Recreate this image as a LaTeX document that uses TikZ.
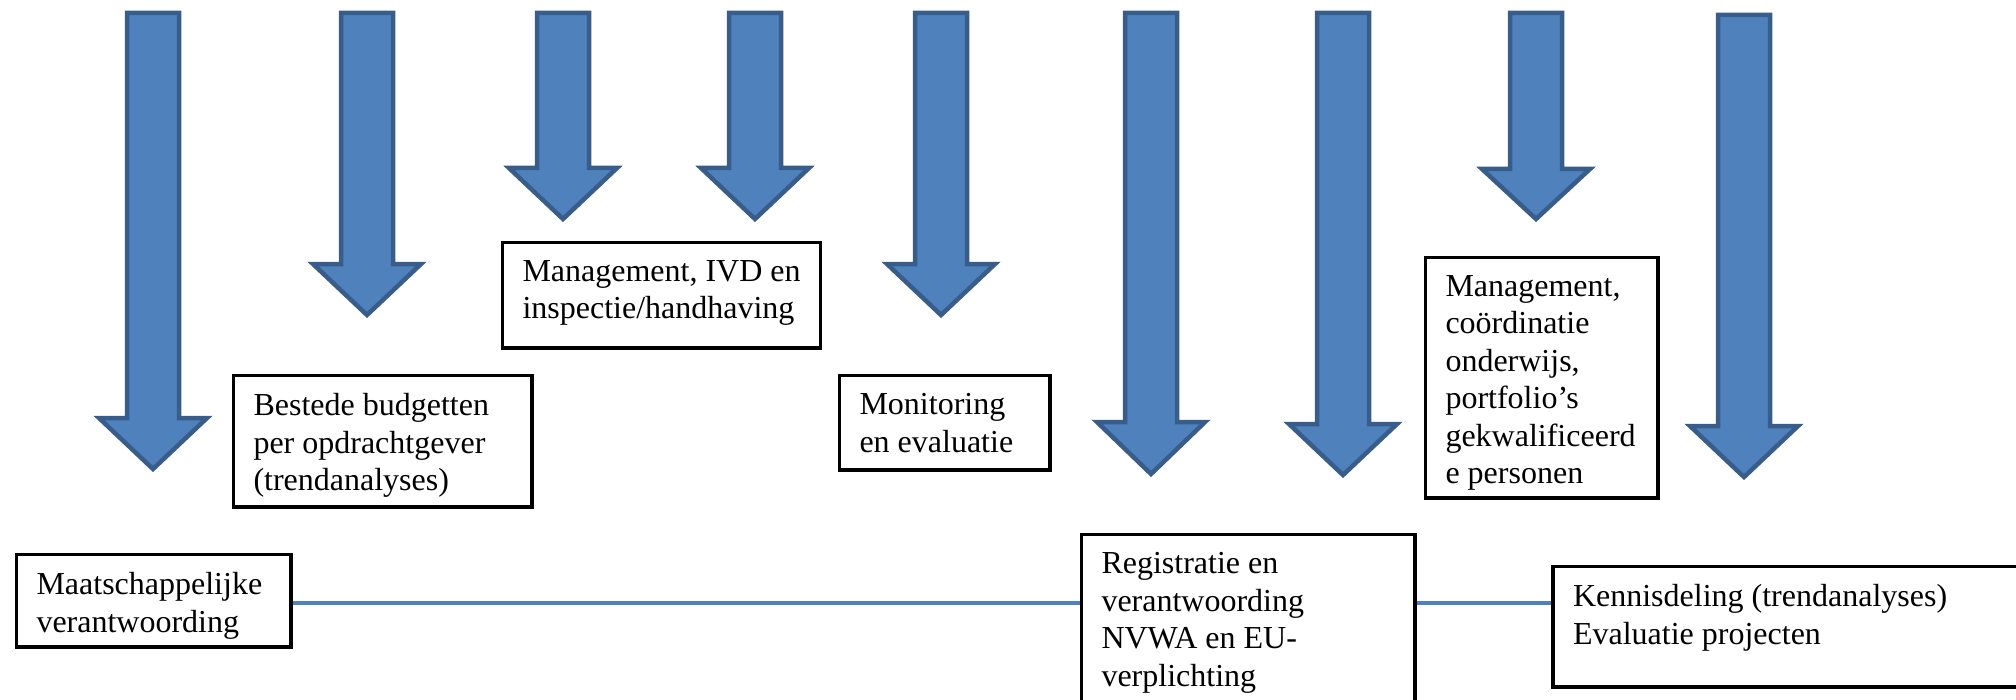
\documentclass[tikz,border=0pt]{standalone}
\usepackage{fontspec}
\setmainfont{Liberation Serif}
\usepackage{xcolor}
\definecolor{ArrowFill}{HTML}{4F81BD}
\definecolor{ArrowEdge}{HTML}{385D8A}
\definecolor{Link}{HTML}{4F81BD}
\usepackage{tikz}
\usetikzlibrary{positioning}
\newcommand{\cell}[3]{\parbox[c][#2][t]{#1}{\raggedright #3}}
\tikzset{
  note/.style={draw=black,line width=1.75pt,fill=white,anchor=north west,
    inner xsep=10pt,inner ysep=9pt,font=\fontsize{16}{18.75}\selectfont},
  bigarrow/.style={fill=ArrowFill,draw=ArrowEdge,line width=2.25pt,line join=miter},
  link/.style={draw=Link,line width=2pt}
}
\begin{document}
\begin{tikzpicture}[x=0.5pt,y=-0.5pt]
\clip (0,0) rectangle (2016,700);
% block arrows: centre x / top / start of head / tip
\foreach \cx/\ya/\yb/\yc in {153/11/416/472, 367/11/262/318, 563/11/166/222,
    755/11/166/222, 941/11/262/318, 1151/11/420/477, 1343/11/422/478,
    1536/11/167/222, 1744/13/424/480}
  \draw[bigarrow] (\cx-26,\ya+2) -- (\cx+26,\ya+2) -- (\cx+26,\yb+2) -- (\cx+54,\yb+2)
    -- (\cx,\yc-3) -- (\cx-54,\yb+2) -- (\cx-26,\yb+2) -- cycle;

\node[note] (maat) at (14.75,552.75)
  {\cell{117.25pt}{28.25pt}{Maatschappelijke\\verantwoording}};
\node[note] (budget) at (231.75,373.75)
  {\cell{129.25pt}{47.75pt}{Bestede budgetten\\per opdrachtgever\\(trendanalyses)}};
\node[note] (ivd) at (500.75,240.75)
  {\cell{139pt}{34.75pt}{Management, IVD en\\inspectie/handhaving}};
\node[note] (monitor) at (837.75,373.75)
  {\cell{85.25pt}{29.25pt}{Monitoring\\en evaluatie}};
\node[note] (regis) at (1079.75,532.75)
  {\cell{146.75pt}{82pt}{Registratie en\\verantwoording\\NVWA en EU-\\verplichting}};
\node[note] (onderwijs) at (1423.75,255.75)
  {\cell{96.25pt}{102.25pt}{Management,\\coördinatie\\onderwijs,\\portfolio’s\\gekwalificeerd\\e personen}};
\node[note] (kennis) at (1551.25,564.75)
  {\cell{254.5pt}{42.25pt}{Kennisdeling (trendanalyses)\\Evaluatie projecten}};

\coordinate (lvl) at (0,603);
\draw[link] (maat.east |- lvl) -- (regis.west |- lvl);
\draw[link] (regis.east |- lvl) -- (kennis.west |- lvl);
\end{tikzpicture}
\end{document}
